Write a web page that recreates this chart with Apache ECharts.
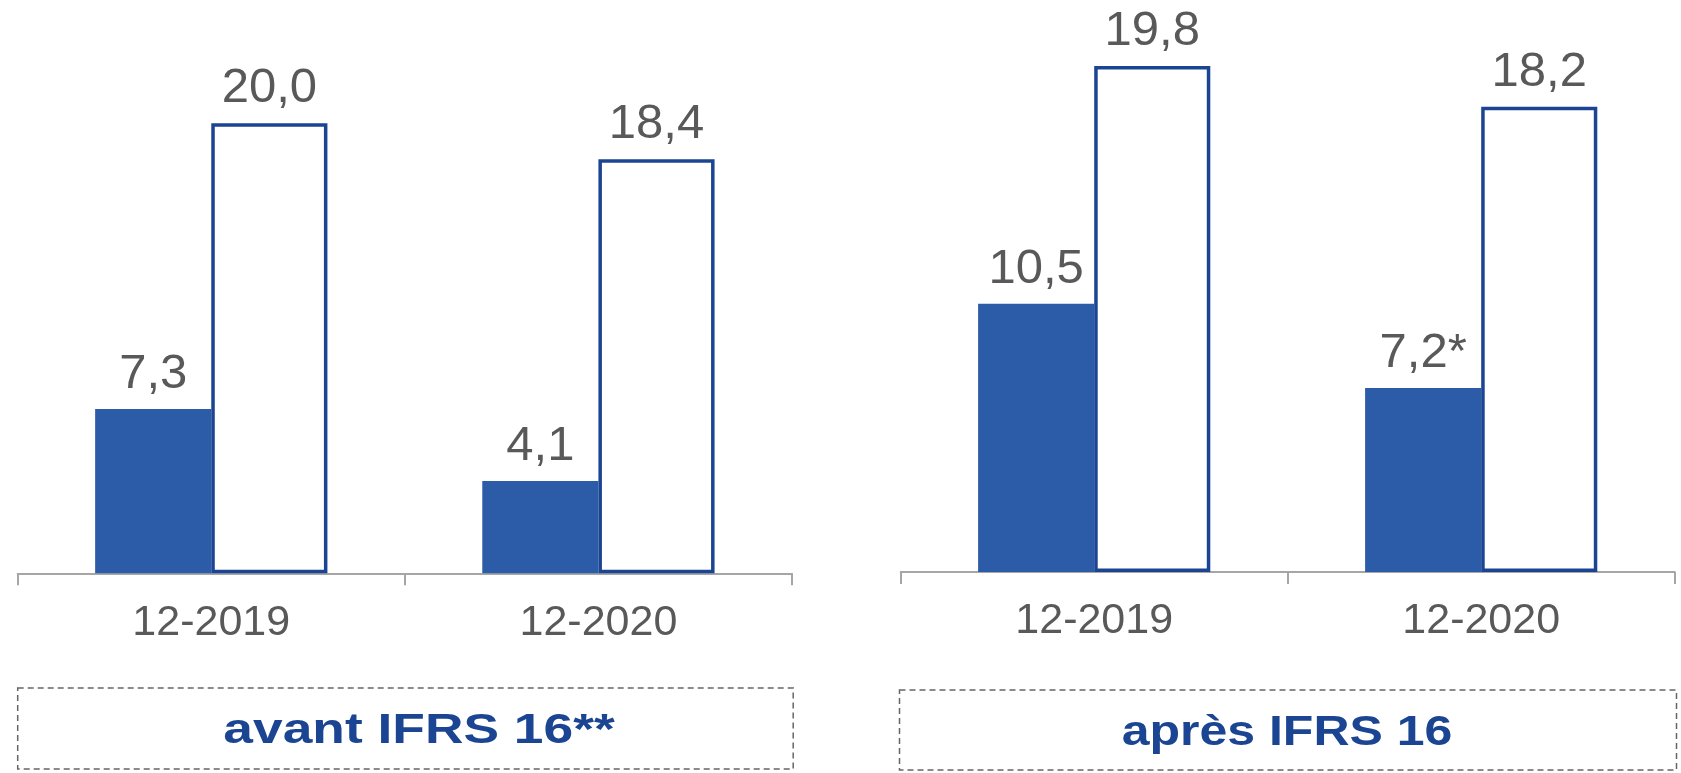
<!DOCTYPE html>
<html>
<head>
<meta charset="utf-8">
<style>
  html, body { margin: 0; padding: 0; background: #fff; }
  #chart { width: 1681px; height: 773px; }
</style>
<script src="https://cdn.jsdelivr.net/npm/echarts@6/dist/echarts.min.js"></script>
</head>
<body>
<div id="chart"></div>
<script>
  // valeurs
  const categories = ['12-2019', '12-2020'];
  const avantPlein = [7.3, 4.1];
  const avantVide = [20.0, 18.4];
  const apresPlein = [10.5, 7.2];
  const apresVide = [19.8, 18.2];
  const apresPleinNotes = ['', '*'];
  const panelTitles = ['avant IFRS 16**', 'après IFRS 16'];

  const BLUE = '#2C5CA7';
  const DARK_BLUE = '#1B4592';
  const GREY_TEXT = '#595959';
  const FONT = '"Liberation Sans", Arial, sans-serif';

  function fmt(v) {
    return v.toFixed(1).replace('.', ',');
  }

  const labelStyle = {
    show: true,
    position: 'top',
    distance: 10,
    fontSize: 49,
    fontFamily: FONT,
    color: GREY_TEXT
  };

  function xAxisFor(idx) {
    return {
      type: 'category',
      gridIndex: idx,
      data: categories,
      axisLine: { lineStyle: { color: '#A6A6A6', width: 2 } },
      axisTick: { show: true, length: 12, lineStyle: { color: '#A6A6A6', width: 2 } },
      axisLabel: { fontSize: 43, fontFamily: FONT, color: GREY_TEXT, margin: 28 }
    };
  }

  function yAxisFor(idx, max) {
    return { type: 'value', gridIndex: idx, min: 0, max: max, show: false };
  }

  function barPair(idx, plein, vide, notes) {
    return [
      {
        type: 'bar',
        xAxisIndex: idx, yAxisIndex: idx,
        data: plein,
        barWidth: '30%',
        barGap: 0,
        itemStyle: { color: BLUE },
        label: Object.assign({}, labelStyle, {
          formatter: p => fmt(p.value) + (notes ? notes[p.dataIndex] : '')
        })
      },
      {
        type: 'bar',
        xAxisIndex: idx, yAxisIndex: idx,
        data: vide,
        barWidth: '30%',
        barGap: 0,
        itemStyle: { color: '#fff', borderColor: DARK_BLUE, borderWidth: 3.5 },
        label: Object.assign({}, labelStyle, { formatter: p => fmt(p.value) })
      }
    ];
  }

  // cadre en pointillés + titre du panneau
  function boxFor(x, y, w, h, textX, text, scaleX) {
    return [
      {
        type: 'rect',
        shape: { x: x, y: y, width: w, height: h },
        style: { fill: 'none', stroke: '#666666', lineWidth: 1.5, lineDash: [6, 4] }
      },
      {
        type: 'text',
        x: textX,
        y: y + h / 2 + 3,
        scaleX: scaleX,
        style: {
          text: text,
          fontSize: 42,
          fontWeight: 'bold',
          fontFamily: FONT,
          fill: DARK_BLUE,
          textAlign: 'center',
          textVerticalAlign: 'middle'
        }
      }
    ];
  }

  const chart = echarts.init(document.getElementById('chart'));
  chart.setOption({
    animation: false,
    grid: [
      { left: 17.7, top: 10.8, width: 774.3, height: 562.5 },
      { left: 900.7, top: 9.7, width: 774, height: 562.3 }
    ],
    xAxis: [xAxisFor(0), xAxisFor(1)],
    yAxis: [yAxisFor(0, 25), yAxisFor(1, 22)],
    series: [].concat(
      barPair(0, avantPlein, avantVide, null),
      barPair(1, apresPlein, apresVide, apresPleinNotes)
    ),
    graphic: [].concat(
      boxFor(17.7, 688, 775.5, 81, 419, panelTitles[0], 1.27),
      boxFor(899.5, 690, 777, 80, 1287, panelTitles[1], 1.19)
    )
  });
</script>
</body>
</html>
